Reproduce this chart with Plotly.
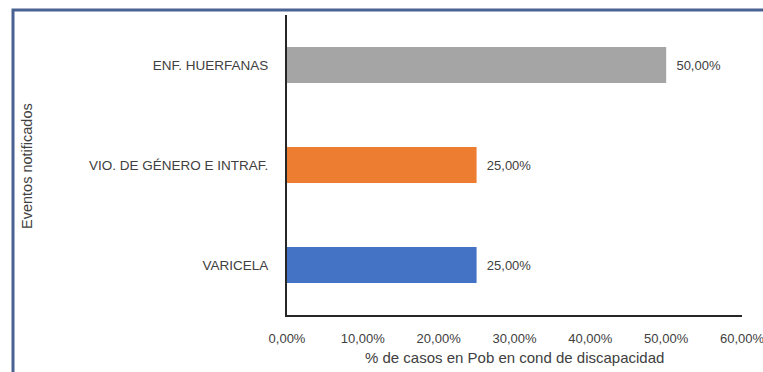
import plotly.graph_objects as go

categories = ["VARICELA", "VIO. DE GÉNERO E INTRAF.", "ENF. HUERFANAS"]
values = [0.25, 0.25, 0.50]
colors = ["#4472C4", "#ED7D31", "#A5A5A5"]
x_ticks = [0, 0.1, 0.2, 0.3, 0.4, 0.5, 0.6]
x_title = "% de casos en Pob en cond de discapacidad"
y_title = "Eventos notificados"

FONT = "Liberation Sans"
TXT = "#404040"

W, H = 763, 372
L, R, T, B = 287, 21, 15, 57
pw, ph = W - L - R, H - T - B

def px(x):
    return (x - L) / pw

def py(y):
    return (H - B - y) / ph

fig = go.Figure()
fig.add_trace(go.Bar(
    x=values, y=categories, orientation="h",
    marker=dict(color=colors, line=dict(width=0)),
    width=0.36,
    text=["\u00a0\u00a0" + f"{v*100:.2f}%".replace(".", ",") for v in values],
    textposition="outside",
    textfont=dict(family=FONT, size=13, color=TXT),
    cliponaxis=False,
    hoverinfo="skip",
))

fig.update_layout(
    width=W, height=H,
    margin=dict(l=L, r=R, t=T, b=B, pad=0, autoexpand=False),
    paper_bgcolor="white", plot_bgcolor="white",
    separators=",.",
    showlegend=False,
    font=dict(family=FONT, size=13, color=TXT),
    xaxis=dict(
        range=[0, 0.6], tickvals=x_ticks, tickformat=".2%",
        showgrid=False, zeroline=False, automargin=False,
        showline=True, linecolor="#262626", linewidth=2,
        ticks="", ticklabelstandoff=10, ticklabeloverflow="allow",
        tickfont=dict(family=FONT, size=13, color=TXT),
    ),
    yaxis=dict(
        range=[-0.5, 2.5],
        showgrid=False, zeroline=False, automargin=False,
        showline=True, linecolor="#262626", linewidth=2,
        ticks="", ticklabelstandoff=14,
        tickfont=dict(family=FONT, size=13.5, color=TXT),
    ),
    shapes=[dict(
        type="rect", xref="paper", yref="paper",
        x0=px(13), x1=px(775), y0=py(385), y1=py(10),
        line=dict(color="#4A6291", width=3), fillcolor="rgba(0,0,0,0)",
        layer="below",
    )],
    annotations=[
        dict(text=x_title, xref="paper", yref="paper", x=0.5, y=py(357),
             showarrow=False, xanchor="center", yanchor="middle",
             font=dict(family=FONT, size=15, color=TXT)),
        dict(text=y_title, xref="paper", yref="paper", x=px(27), y=py(166),
             showarrow=False, xanchor="center", yanchor="middle", textangle=-90,
             font=dict(family=FONT, size=14.5, color=TXT)),
    ],
)

fig.write_html(
    "out.html",
    config={"displayModeBar": False},
    post_script="document.body.style.margin='0';document.body.style.overflow='hidden';",
)
